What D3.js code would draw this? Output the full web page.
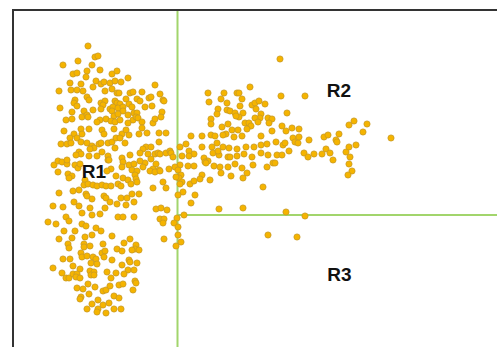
<!DOCTYPE html>
<html>
<head>
<meta charset="utf-8">
<script src="https://cdn.jsdelivr.net/npm/d3@7"></script>
<style>
  html, body { margin: 0; padding: 0; background: #fff; }
  svg { display: block; }
</style>
</head>
<body>
<svg id="chart" width="497" height="347"></svg>
<script>
// Samples of the dense left-hand group
const leftCluster = [
  [75,301],[82,290],[85,291],[50,282],[65,286],[79,282],[74,276],[87,277],[60,273],[64,274],[73,270],[99,273],[104,276],[115,269],
  [57,264],[68,263],[83,266],[88,263],[91,265],[97,264],[102,266],[108,265],[80,260],[46,256],[58,257],[64,257],[70,256],[92,256],
  [99,258],[142,262],[104,254],[106,254],[117,254],[120,255],[129,255],[147,253],[74,250],[76,247],[62,247],[61,244],[88,244],[92,246],
  [90,242],[102,246],[104,244],[107,243],[113,248],[116,243],[124,248],[127,246],[136,249],[138,250],[150,247],[151,246],[47,239],
  [64,241],[88,238],[97,238],[100,240],[99,236],[105,239],[110,240],[110,236],[119,240],[132,240],[139,241],[59,235],[71,236],[80,237],
  [101,231],[105,233],[121,234],[124,234],[149,235],[115,232],[53,227],[59,228],[69,230],[74,232],[75,230],[87,227],[93,228],[98,226],
  [102,225],[107,227],[120,227],[123,230],[125,229],[129,225],[140,224],[142,228],[148,230],[115,224],[84,225],
  [51,216],[61,213],[68,218],[69,213],[76,218],[89,217],[91,213],[101,218],[109,213],[113,217],[116,212],[126,213],[129,219],[153,214],
  [57,209],[64,209],[68,205],[74,204],[48,203],[54,203],[58,204],[79,201],[81,199],[77,198],[86,203],[88,204],[95,204],[99,205],
  [103,209],[107,209],[102,199],[112,204],[66,195],[68,193],[63,192],[76,191],[84,191],[95,191],[95,187],[89,195],[117,192],[109,189],
  [110,185],[41,182],[45,186],[49,185],[54,183],[54,187],[62,182],[65,179],[67,183],[96,187],[98,178],[94,176],[109,180],[116,182],
  [121,183],[119,177],[124,176],[122,172],[45,175],[55,173],[59,171],[56,169],[72,167],[71,162],[75,163],[80,162],[84,161],[89,162],
  [93,161],[98,161],[103,171],[105,163],[108,161],[110,169],[115,167],[118,163],[123,168],[124,165],[46,154],[60,156],[66,157],[73,153],
  [74,151],[79,148],[91,151],[93,149],[97,145],[108,149],[114,149],[119,153],[126,153],[104,143],[113,142],[121,145],[40,141],[50,140],
  [61,145],[66,141],[77,139],[92,139],
  [35,125],[43,123],[53,130],[56,126],[69,134],[79,132],[87,133],[105,130],[110,130],[121,130],[69,123],[73,121],[83,119],[88,116],
  [62,116],[51,116],[46,108],[59,109],[72,110],[79,112],[99,111],[117,108],[55,103],[56,99],[71,103],[71,100],[77,101],[90,103],
  [111,104],[123,102],[122,98],[119,97],[126,97],[104,98],[109,96],[68,94],[69,90],[89,94],[92,96],[91,90],[74,91],[80,90],[83,88],
  [78,84],[84,83],[50,88],[57,88],[99,87],[116,87],[117,85],[124,84],[109,82],[60,81],[67,78],[40,79],[115,77],[121,77],[77,76],
  [81,75],[78,72],[81,72],[94,75],[103,74],[111,73],[49,74],[53,69],[56,69],[60,73],[64,73],[63,70],[67,69],[98,69],[122,66],[123,64],
  [120,57],[75,63],[82,60],[106,62],[110,63],[64,59],[70,58],[90,56],[93,57],[97,61],[76,53],[68,50],[67,48],[101,51],[106,49],[85,47],
  [96,44],[90,42],[79,43],[74,38],[85,38],[84,35],[93,34],[101,38],[108,38]
];

// Samples of the band stretching to the right
const rightCluster = [
  [134,214],[146,214],[178,211],[189,211],[198,212],[202,211],[213,213],[210,212],[221,210],[229,211],[248,211],[259,216],[273,216],
  [146,205],[133,200],[138,200],[130,198],[167,200],[173,203],[189,200],[199,200],[204,204],[210,200],[216,199],[224,198],[233,200],
  [241,200],[248,202],[254,203],[263,205],[270,202],[176,196],[181,193],[176,191],[191,189],[195,186],[192,185],[200,194],[206,192],
  [205,196],[215,190],[217,190],[224,191],[231,193],[239,190],[248,194],[255,192],[264,192],[269,192],[276,196],[127,194],[135,193],
  [142,193],[145,194],[147,193],[153,194],[157,196],[158,194],[160,190],[132,184],[138,188],[143,183],[140,178],[127,186],[130,180],
  [169,191],[167,182],[175,181],[181,181],[193,184],[201,181],[207,180],[215,180],[222,183],[229,179],[240,182],[254,180],[260,184],
  [262,184],[146,177],[156,178],[137,176],[142,175],[147,176],[162,180],[165,177],[168,172],[166,169],[169,165],[163,170],[167,163],
  [170,155],[208,174],[218,171],[234,174],[189,172],[187,168],[177,163],[181,166],[197,167],[230,169],[250,160],[150,165],[153,159],
  [140,159],[165,152],[182,152],[178,144],[143,138],[148,139],[154,137],[206,138],[230,139],[273,135],[171,132],[164,129],[147,128],
  [151,128],[150,124],[161,124],[165,120],[165,112],[168,105],[151,108],[163,101],[255,112],
  [267,288],[237,260],[195,254],[196,245],[211,254],[208,248],[224,254],[226,254],[229,248],[214,244],[205,238],[204,233],[214,237],
  [217,236],[227,241],[222,234],[230,234],[226,230],[223,231],[239,242],[242,244],[246,246],[252,243],[243,238],[248,233],[247,229],
  [242,229],[245,225],[198,228],[198,223],[209,220],[215,223],[219,217],[225,217],[232,224],[236,224],[238,221],[234,218],[255,229],
  [259,228],[256,224],[274,234],
  [268,251],[292,251],[279,219],[286,218],[336,222],[341,226],[354,223],[269,221],
  [272,204],[280,209],[282,205],[285,204],[286,210],[296,207],[291,194],[295,190],[301,193],[309,193],[313,198],[317,194],[320,187],
  [311,210],[315,212],[323,207],[326,213],[324,205],[333,195],[336,200],[343,202],[337,190],[336,183],[339,176],[335,172],[350,215],
  [378,209],[292,131],[284,110]
];

// Split thresholds (data units)
const splitX = 164.5;
const splitY = 132;

// Region names
const regionNames = ["R1", "R2", "R3"];

// ---- layout ----
const W = 497, H = 347;
const x = d3.scaleLinear().domain([0, 484]).range([13, 497]);
const y = d3.scaleLinear().domain([0, 337]).range([347, 10]);

const svg = d3.select("#chart");
svg.append("rect").attr("width", W).attr("height", H).attr("fill", "#fff");

const green = "#a2d56c";

// split lines
svg.append("line")
  .attr("x1", x(splitX)).attr("x2", x(splitX))
  .attr("y1", y(337)).attr("y2", H)
  .attr("stroke", green).attr("stroke-width", 2);
svg.append("line")
  .attr("x1", x(splitX)).attr("x2", W)
  .attr("y1", y(splitY)).attr("y2", y(splitY))
  .attr("stroke", green).attr("stroke-width", 2);

// frame: left and top edges
svg.append("line")
  .attr("x1", x(0)).attr("x2", x(0)).attr("y1", y(337) - 1).attr("y2", H)
  .attr("stroke", "#333").attr("stroke-width", 2);
svg.append("line")
  .attr("x1", x(0) - 1).attr("x2", W).attr("y1", y(337)).attr("y2", y(337))
  .attr("stroke", "#333").attr("stroke-width", 2);

// points
const allPoints = leftCluster.concat(rightCluster);
svg.append("g")
  .selectAll("circle")
  .data(allPoints)
  .join("circle")
  .attr("cx", d => x(d[0]))
  .attr("cy", d => y(d[1]))
  .attr("r", 3.1)
  .attr("fill", "#f5b400")
  .attr("stroke", "#c99a24")
  .attr("stroke-width", 0.8);

// region labels, anchored in data units
const labelAnchors = [[81, 169], [326, 250], [326.5, 66]];
svg.append("g")
  .selectAll("text")
  .data(regionNames)
  .join("text")
  .attr("x", (d, i) => x(labelAnchors[i][0]))
  .attr("y", (d, i) => y(labelAnchors[i][1]))
  .attr("text-anchor", "middle")
  .attr("font-family", "'Liberation Sans', Arial, sans-serif")
  .attr("font-weight", "bold")
  .attr("font-size", 19)
  .attr("fill", "#111")
  .text(d => d);
</script>
</body>
</html>
